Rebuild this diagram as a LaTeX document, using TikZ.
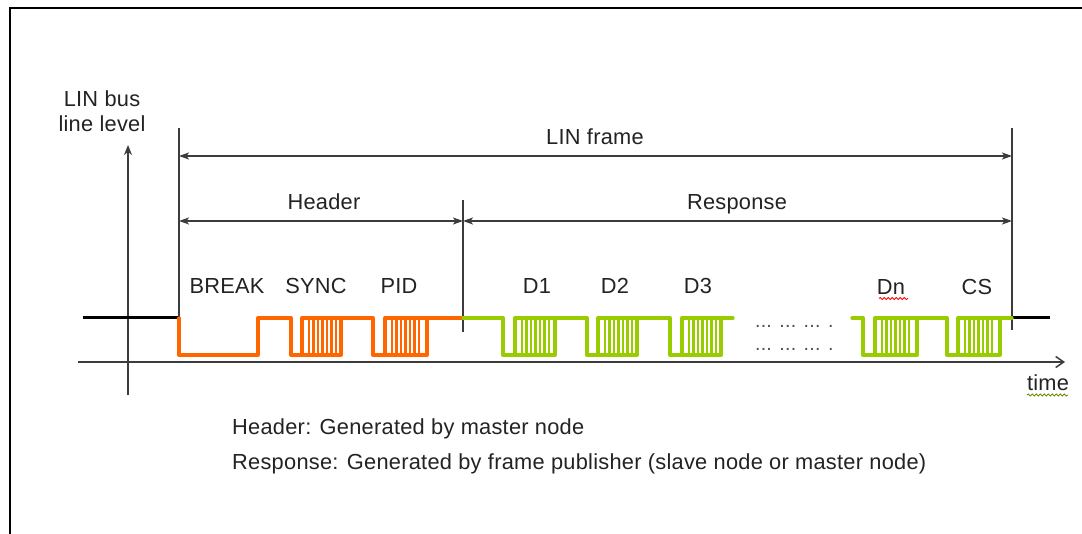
\documentclass[tikz,border=0pt]{standalone}
\usepackage{fontspec}
\setmainfont[LetterSpace=1.2]{Liberation Sans}
\usetikzlibrary{arrows.meta,decorations.pathmorphing}

\definecolor{hdr}{RGB}{255,102,0}
\definecolor{rsp}{RGB}{153,204,0}
\definecolor{ink}{RGB}{35,35,35}
\definecolor{rulegray}{RGB}{60,60,60}

\tikzset{
  lbl/.style={font=\fontsize{21.8}{26}\selectfont, text=ink, inner sep=0pt, anchor=base},
  dots/.style={font=\fontsize{19.5}{23}\selectfont, text=ink!80, inner sep=0pt, anchor=base west},
  dimarrow/.style={draw=rulegray, line width=1.6pt,
    {Stealth[length=10pt,width=7pt,inset=2.5pt]}-{Stealth[length=10pt,width=7pt,inset=2.5pt]}},
  marker/.style={draw=rulegray, line width=1.7pt},
  axisline/.style={draw=rulegray, line width=1.5pt},
  sig/.style={line width=3.3pt, line join=round, line cap=round},
  idle/.style={draw=black, line width=3pt},
  squiggle/.style={line width=0.8pt, decorate,
    decoration={snake, amplitude=1.1pt, segment length=4pt}},
}

% One byte on the bus: high from #2, falling edge at #3 (start bit),
% rising at #4, striped data bits up to #5, then back to high.
\newcommand\busbyte[5]{%
  \draw[sig,#1] (#2,318) -- (#3,318) -- (#3,355) -- (#5,355) -- (#5,318) -- (#4,318) -- (#4,355);
  \foreach \k in {1,...,7}{
    \draw[#1, line width=2.9pt] ({#4+2.5+\k*4.5},318) -- ({#4+2.5+\k*4.5},355);
  }%
}

\begin{document}
\begin{tikzpicture}[x=1pt,y=-1pt]
  \clip (0,0) rectangle (1082,534);
  \fill[white] (0,0) rectangle (1082,534);

  % outer frame
  \draw[black, line width=2pt] (10,560) -- (10,8) -- (1100,8);

  % axes
  \coordinate (yaxB) at (128,395);
  \coordinate (yaxT) at (128,145);
  \coordinate (xaxL) at (78,362);
  \coordinate (xaxR) at (1065,362);
  \draw[axisline, -{Stealth[length=10pt,width=8pt,inset=3pt]}] (yaxB) -- (yaxT);
  \draw[axisline, -{Straight Barb[length=8pt,width=11pt]}] (xaxL) -- (xaxR);
  \node[lbl] (ylab1) at (102,107) {LIN bus};
  \node[lbl] (ylab2) at (102,132) {line level};
  \node[lbl] (tlab) at (1048,391) {time};
  \draw[squiggle, rsp!70!black] (1027,395) -- (1068,395);

  % frame boundary markers
  \coordinate (startT) at (179,128);
  \coordinate (startB) at (179,330);
  \coordinate (splitT) at (463,200);
  \coordinate (splitB) at (463,332);
  \coordinate (endT) at (1012,128);
  \coordinate (endB) at (1012,330);
  \draw[marker] (startT) -- (startB);
  \draw[marker] (splitT) -- (splitB);
  \draw[marker] (endT) -- (endB);

  % dimension arrows
  \coordinate (frameL) at (179,156);
  \coordinate (frameR) at (1012,156);
  \coordinate (headL) at (179,221);
  \coordinate (headR) at (463,221);
  \coordinate (respL) at (463,221);
  \coordinate (respR) at (1012,221);
  \draw[dimarrow] (frameL) -- (frameR);
  \draw[dimarrow] (headL) -- (headR);
  \draw[dimarrow] (respL) -- (respR);
  \node[lbl] (framelab) at (595,145) {LIN frame};
  \node[lbl] (headlab) at (324,210) {Header};
  \node[lbl] (resplab) at (737,210) {Response};

  % idle level before and after the frame
  \draw[idle] (83,318) -- (startB |- 0,318);
  \draw[idle] (endB |- 0,318) -- (1050,318);

  % header (master)
  \draw[sig,hdr] (179,318) -- (179,355) -- (258,355) -- (258,318);
  \busbyte{hdr}{258}{291}{302}{341}
  \busbyte{hdr}{341}{373}{385}{427}
  \draw[sig,hdr] (427,318) -- (463,318);

  % response (publisher)
  \busbyte{rsp}{463}{503}{515}{555}
  \busbyte{rsp}{555}{587}{598}{637}
  \busbyte{rsp}{637}{670}{682}{721}
  \draw[sig,rsp] (721,318) -- (733,318);
  \busbyte{rsp}{852}{863}{875}{917}
  \busbyte{rsp}{917}{947}{958}{1000}
  \draw[sig,rsp] (1000,318) -- (1012,318);

  % field names
  \node[lbl] (fbreak) at (227,294) {BREAK};
  \node[lbl] (fsync) at (316,294) {SYNC};
  \node[lbl] (fpid) at (399,294) {PID};
  \node[lbl] (fd1) at (537,294) {D1};
  \node[lbl] (fd2) at (615,294) {D2};
  \node[lbl] (fd3) at (698,294) {D3};
  \node[lbl] (fdn) at (891,295) {Dn};
  \draw[squiggle, red] (879,298.5) -- (908,298.5);
  \node[lbl] (fcs) at (977,295) {CS};

  % omitted bytes
  \node[dots] (gap1) at (755,328) {... ... ... .};
  \node[dots] (gap2) at (755,351) {... ... ... .};

  % legend
  \node[lbl, anchor=base west] (leg1) at (232,435) {Header: Generated by master node};
  \node[lbl, anchor=base west] (leg2) at (232,470) {Response: Generated by frame publisher (slave node or master node)};
\end{tikzpicture}
\end{document}
